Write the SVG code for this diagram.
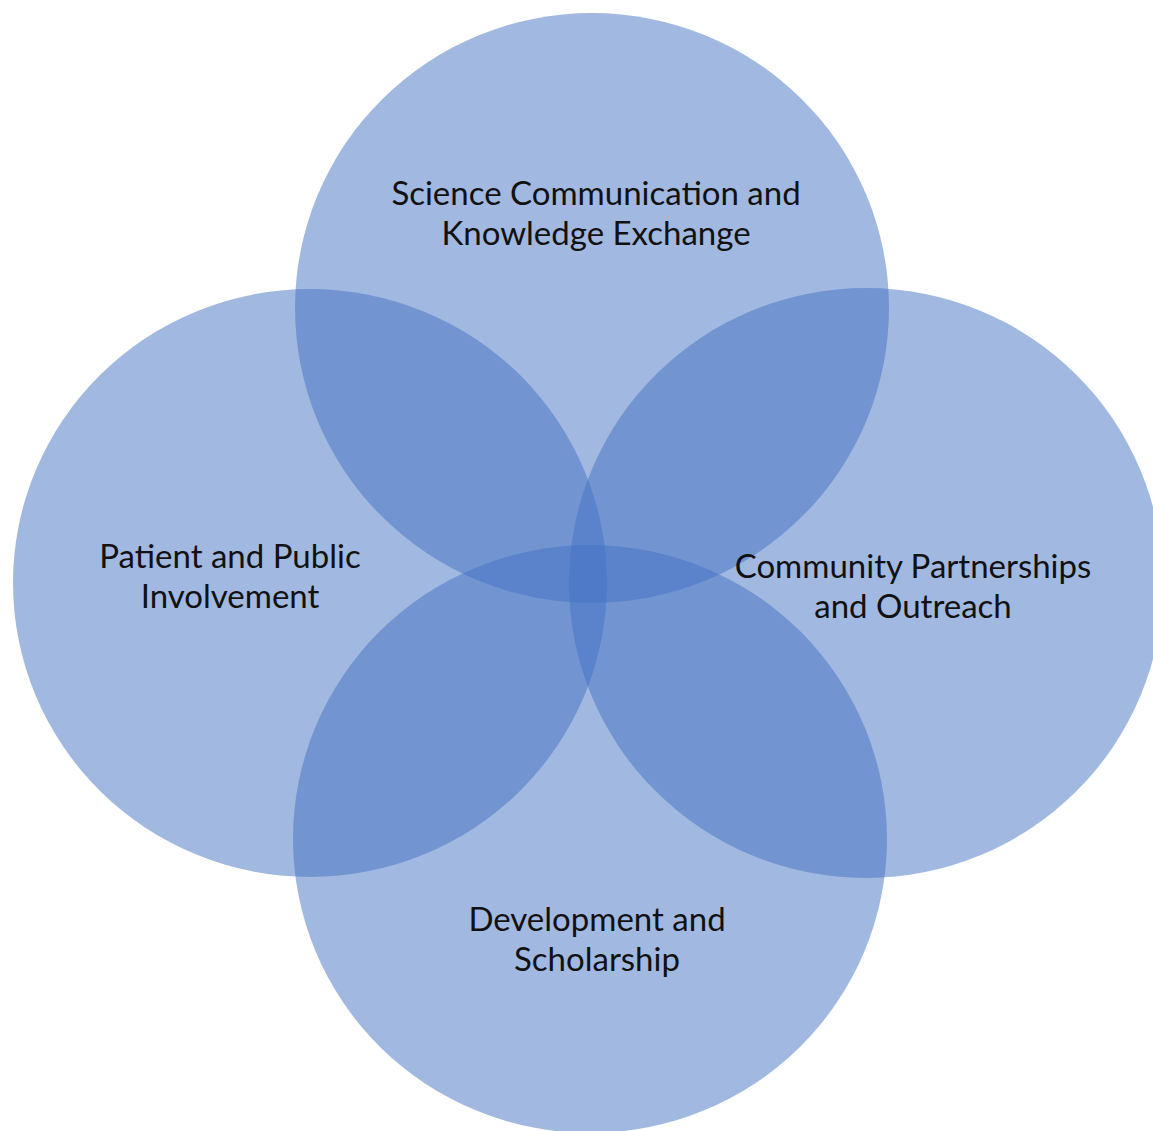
<svg xmlns="http://www.w3.org/2000/svg" width="1153" height="1131" viewBox="0 0 1153 1131">
<style>
.c{fill:#4472C4;fill-opacity:0.5;stroke:none}
.t{font-family:Lato,"Liberation Sans",sans-serif;font-size:33px;fill:#111111;text-anchor:middle}
</style>
<rect width="1153" height="1131" fill="#ffffff"/>
<g id="top"><ellipse class="c" cx="592" cy="308" rx="297" ry="295"/></g>
<g id="left"><ellipse class="c" cx="310" cy="583" rx="297" ry="294"/></g>
<g id="right"><ellipse class="c" cx="866" cy="583" rx="297" ry="295"/></g>
<g id="bottom"><ellipse class="c" cx="590" cy="839" rx="297" ry="294"/></g>
<g id="labels">
<text class="t" x="596" y="205">Science Communication and</text>
<text class="t" x="596" y="245">Knowledge Exchange</text>
<text class="t" x="230" y="568">Patient and Public</text>
<text class="t" x="230" y="608">Involvement</text>
<text class="t" x="913" y="578">Community Partnerships</text>
<text class="t" x="913" y="618">and Outreach</text>
<text class="t" x="597" y="931">Development and</text>
<text class="t" x="597" y="971">Scholarship</text>
</g>
<g id="connectors"/>
</svg>
